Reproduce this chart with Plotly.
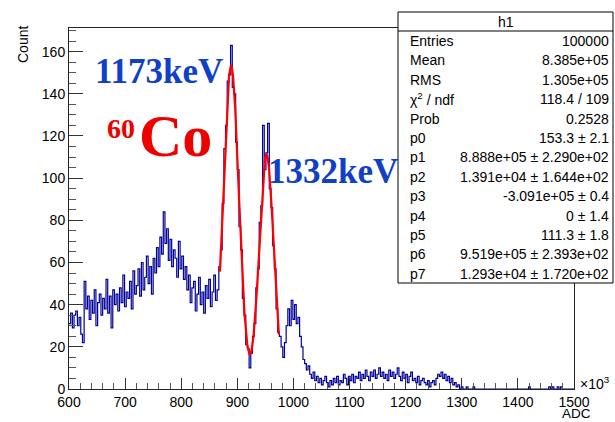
import numpy as np
import plotly.graph_objects as go

# ---------------- data (ADC in units of 10^3) ----------------
bin_start = 600.0
bin_width = 3.0

counts_600_690 = [31, 36, 29, 35, 37, 30, 34, 26, 22, 51,
                  38, 44, 33, 42, 36, 47, 30, 41, 45, 35,
                  43, 38, 52, 36, 44, 29, 47, 40, 45, 37]
counts_690_780 = [48, 41, 54, 39, 46, 43, 51, 38, 56, 45,
                  49, 57, 44, 60, 47, 53, 63, 50, 58, 45,
                  62, 55, 67, 58, 72, 64, 84, 69, 76, 61]
counts_780_870 = [71, 58, 66, 62, 53, 70, 57, 63, 52, 58,
                  47, 54, 41, 48, 51, 37, 45, 53, 40, 46,
                  36, 49, 43, 52, 39, 46, 54, 42, 47, 58]
counts_870_960 = [66, 88, 114, 125, 146, 149, 163, 143, 140, 117,
                  104, 77, 66, 43, 35, 21, 19, 10, 17, 25,
                  31, 48, 57, 79, 87, 125, 104, 112, 126, 95]
counts_960_1050 = [86, 68, 57, 38, 27, 25, 20, 15, 22, 30,
                   38, 30, 42, 33, 40, 31, 34, 25, 20, 14,
                   12, 9, 11, 7, 5, 8, 4, 6, 3, 5]
counts_1050_1140 = [2, 4, 6, 3, 1, 4, 2, 5, 3, 6,
                    2, 4, 3, 7, 5, 2, 6, 4, 7, 3,
                    6, 5, 8, 4, 7, 5, 9, 6, 4, 8]
counts_1140_1230 = [6, 9, 5, 7, 10, 6, 8, 5, 7, 4,
                    9, 6, 8, 5, 7, 10, 6, 4, 8, 5,
                    7, 3, 6, 8, 4, 5, 3, 6, 2, 4]
counts_1230_1320 = [5, 3, 2, 4, 1, 3, 4, 2, 5, 7,
                    6, 8, 5, 7, 4, 6, 3, 5, 2, 3,
                    1, 2, 0, 1, 0, 0, 1, 0, 0, 0]
counts_1320_1500 = [1, 0, 0, 0, 0, 0, 0, 0, 0, 0,
                    0, 0, 0, 0, 0, 0, 0, 0, 0, 0,
                    0, 0, 0, 0, 0, 0, 0, 0, 0, 0,
                    0, 0, 0, 1, 0, 0, 0, 0, 0, 0,
                    0, 0, 0, 0, 0, 1, 0, 1, 0, 0,
                    1, 0, 1, 0, 0, 0, 0, 0, 0, 0]

# fit parameters shown in the stats box (gaus(0)+expo(3)+gaus(5)); means/sigmas in 10^3 ADC
fit_p = [153.3, 888.8, 13.91, -3.091e5, 0.0, 111.3, 951.9, 12.93]
fit_range = [869.0, 974.0]

stats_labels = ["Entries", "Mean", "RMS", "χ<sup>2</sup> / ndf", "Prob",
                "p0", "p1", "p2", "p3", "p4", "p5", "p6", "p7"]
stats_values = ["100000", "8.385e+05", "1.305e+05", "118.4 / 109", "0.2528",
                "153.3 ± 2.1", "8.888e+05 ± 2.290e+02", "1.391e+04 ± 1.644e+02",
                "-3.091e+05 ± 0.4", "0 ± 1.4", "111.3 ± 1.8",
                "9.519e+05 ± 2.393e+02", "1.293e+04 ± 1.720e+02"]

# ---------------- build ----------------
counts = (counts_600_690 + counts_690_780 + counts_780_870 + counts_870_960 +
          counts_960_1050 + counts_1050_1140 + counts_1140_1230 +
          counts_1230_1320 + counts_1320_1500)
edges = bin_start + bin_width * np.arange(len(counts) + 1)
step_y = list(counts) + [counts[-1]]

xf = np.linspace(fit_range[0], fit_range[1], 300)
x_raw = xf * 1e3
yf = (fit_p[0] * np.exp(-0.5 * ((xf - fit_p[1]) / fit_p[2]) ** 2)
      + np.exp(fit_p[3] + fit_p[4] * x_raw)
      + fit_p[5] * np.exp(-0.5 * ((xf - fit_p[6]) / fit_p[7]) ** 2))

L, R, T, B = 69, 574, 28, 389
W, H = 615, 422


def px(x):
    return (x - L) / (R - L)


def py(y):
    return (B - y) / (B - T)


fig = go.Figure()
fig.add_trace(go.Scatter(x=edges, y=step_y, mode="lines", line_shape="hv",
                         line=dict(color="#000099", width=1.2), hoverinfo="skip"))
fig.add_trace(go.Scatter(x=xf, y=yf, mode="lines",
                         line=dict(color="#ff0000", width=2.2), hoverinfo="skip"))

font_ax = dict(family="Liberation Sans, Arial, sans-serif", size=14, color="black")

fig.update_layout(
    width=W, height=H,
    margin=dict(l=L, r=W - R, t=T, b=H - B, pad=0),
    paper_bgcolor="white", plot_bgcolor="white",
    showlegend=False,
    font=font_ax,
    xaxis=dict(range=[600, 1500], tickmode="linear", tick0=600, dtick=100,
               ticks="inside", ticklen=11, tickwidth=1, tickcolor="#333",
               minor=dict(dtick=20, tick0=600, ticks="inside", ticklen=6, tickcolor="#555"),
               showline=True, linecolor="#222", linewidth=1, mirror=True,
               showgrid=False, zeroline=False, tickfont=font_ax),
    yaxis=dict(range=[0, 171.2], tickmode="linear", tick0=0, dtick=20,
               ticks="inside", ticklen=14, tickwidth=1, tickcolor="#333",
               minor=dict(dtick=5, tick0=0, ticks="inside", ticklen=7, tickcolor="#555"),
               showline=True, linecolor="#222", linewidth=1, mirror=True,
               showgrid=False, zeroline=False, tickfont=font_ax),
)

ann = []


def add_text(x, y, text, font, xanchor="center", yanchor="middle", **kw):
    ann.append(dict(x=px(x), y=py(y), xref="paper", yref="paper", text=text,
                    showarrow=False, xanchor=xanchor, yanchor=yanchor, font=font, **kw))


# axis titles
add_text(576, 413.5, "ADC", dict(family="Liberation Sans, Arial, sans-serif", size=13.5, color="black"),
         borderpad=0)
add_text(595, 383, "×10<sup>3</sup>", font_ax)
add_text(23, 45, "Count", font_ax, textangle=-90)
# peak labels
serif_blue = dict(family="Liberation Serif, Times New Roman, serif", size=35, color="#1040c8")
add_text(159, 72, "<b>1173keV</b>", serif_blue)
add_text(333, 171, "<b>1332keV</b>", serif_blue)
add_text(121, 128, "<b>60</b>",
         dict(family="Liberation Serif, Times New Roman, serif", size=28, color="#ee0000"))
add_text(175, 136, "<b>Co</b>",
         dict(family="Liberation Serif, Times New Roman, serif", size=60, color="#ee0000"))

# stats box
bx0, bx1, by0, by1 = 398, 613, 12, 283
shapes = [
    dict(type="rect", xref="paper", yref="paper", x0=px(bx0), x1=px(bx1), y0=py(by1), y1=py(by0),
         line=dict(color="black", width=1), fillcolor="white", layer="above"),
    dict(type="line", xref="paper", yref="paper", x0=px(bx0), x1=px(bx1), y0=py(31), y1=py(31),
         line=dict(color="black", width=1), layer="above"),
]
add_text((bx0 + bx1) / 2, 21.5, "h1", font_ax)
for i, (lab, val) in enumerate(zip(stats_labels, stats_values)):
    yy = 41 + 19.4 * i
    add_text(408, yy, lab, font_ax, xanchor="left")
    add_text(611, yy, val, font_ax, xanchor="right")

fig.update_layout(annotations=ann, shapes=shapes)
fig.write_html("out.html")
